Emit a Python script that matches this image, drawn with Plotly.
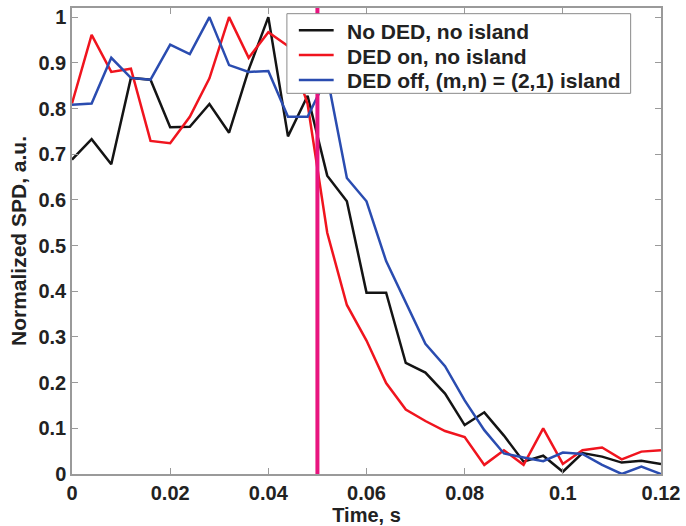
import plotly.graph_objects as go

# Time samples (s)
time_s = [0.000, 0.004, 0.008, 0.012, 0.016, 0.020, 0.024, 0.028, 0.032, 0.036,
          0.040, 0.044, 0.048, 0.052, 0.056, 0.060, 0.064, 0.068, 0.072, 0.076,
          0.080, 0.084, 0.088, 0.092, 0.096, 0.100, 0.104, 0.108, 0.112, 0.116,
          0.120]

# Normalized SPD signals
no_ded_no_island = [0.688, 0.733, 0.678, 0.867, 0.863, 0.759, 0.760, 0.810, 0.747, 0.885,
                    1.000, 0.739, 0.828, 0.653, 0.597, 0.397, 0.397, 0.243, 0.222, 0.176,
                    0.107, 0.135, 0.084, 0.027, 0.040, 0.005, 0.046, 0.038, 0.025, 0.029,
                    0.022]
ded_on_no_island = [0.811, 0.961, 0.880, 0.887, 0.729, 0.724, 0.782, 0.866, 1.000, 0.911,
                    0.967, 0.937, 0.810, 0.528, 0.370, 0.292, 0.199, 0.141, 0.116, 0.094,
                    0.081, 0.020, 0.052, 0.020, 0.100, 0.022, 0.052, 0.058, 0.032, 0.049,
                    0.052]
ded_off_island = [0.808, 0.811, 0.911, 0.867, 0.863, 0.940, 0.919, 1.000, 0.895, 0.880,
                  0.882, 0.782, 0.782, 0.870, 0.648, 0.597, 0.466, 0.375, 0.285, 0.236,
                  0.161, 0.096, 0.045, 0.036, 0.028, 0.047, 0.044, 0.020, 0.000, 0.016,
                  0.000]

series_names = ["No DED, no island", "DED on, no island", "DED off, (m,n) = (2,1) island"]
series_colors = ["#141414", "#f0141e", "#2a4cb0"]

# DED switch time marker
switch_time = 0.05

x_ticks = [0, 0.02, 0.04, 0.06, 0.08, 0.1, 0.12]
x_tick_text = ["0", "0.02", "0.04", "0.06", "0.08", "0.1", "0.12"]
y_ticks = [0, 0.1, 0.2, 0.3, 0.4, 0.5, 0.6, 0.7, 0.8, 0.9, 1.0]
y_tick_text = ["0", "0.1", "0.2", "0.3", "0.4", "0.5", "0.6", "0.7", "0.8", "0.9", "1"]

FONT = "Liberation Sans, Arial, sans-serif"
TXT = "#222222"
FRAME = "#9a9a9a"

W, H = 686, 526
M_L, M_R, M_T, M_B = 72, 22, 6, 52
PW, PH = W - M_L - M_R, H - M_T - M_B


def px_x(px):
    """Pixel column -> paper x (plot-area relative)."""
    return (px - M_L) / PW


def px_y(py):
    """Pixel row (from top) -> paper y (plot-area relative)."""
    return (H - M_B - py) / PH


fig = go.Figure()
for name, ys, col in zip(series_names,
                         [no_ded_no_island, ded_on_no_island, ded_off_island],
                         series_colors):
    fig.add_trace(go.Scatter(x=time_s, y=ys, mode="lines", name=name, showlegend=False,
                             line=dict(color=col, width=2.5)))

fig.add_shape(type="line", xref="x", yref="paper", x0=switch_time, x1=switch_time,
              y0=0, y1=1, line=dict(color="#e8157f", width=4), layer="above")

# Boxed legend in the upper right
fig.add_shape(type="rect", xref="paper", yref="paper",
              x0=px_x(288), x1=px_x(633.5), y0=px_y(91.7), y1=px_y(11.7),
              fillcolor="white", line=dict(color="#8a8a8a", width=1), layer="above")
row_px = [28.3, 53.3, 78.3]
for name, col, ry in zip(series_names, series_colors, row_px):
    fig.add_shape(type="line", xref="paper", yref="paper",
                  x0=px_x(300), x1=px_x(335), y0=px_y(ry), y1=px_y(ry),
                  line=dict(color=col, width=2.5), layer="above")
    fig.add_annotation(xref="paper", yref="paper", x=px_x(347), y=px_y(ry + 1),
                       xanchor="left", yanchor="middle", text=name, showarrow=False,
                       borderpad=0,
                       font=dict(family=FONT, size=21, color=TXT, weight="bold"))

axis_common = dict(
    showline=True, linecolor=FRAME, linewidth=1.5, mirror="ticks",
    ticks="inside", ticklen=6, tickcolor=FRAME, tickwidth=1,
    showgrid=False, zeroline=False,
    tickfont=dict(family=FONT, size=20, color=TXT, weight="bold"),
)

fig.update_xaxes(range=[0, 0.12], tickvals=x_ticks, ticktext=x_tick_text,
                 title=dict(text="Time, s", standoff=2,
                            font=dict(family=FONT, size=20, color=TXT, weight="bold")),
                 **axis_common)
fig.update_yaxes(range=[0, 1.02], tickvals=y_ticks, ticktext=y_tick_text,
                 title=dict(text="Normalized SPD, a.u.", standoff=6,
                            font=dict(family=FONT, size=21, color=TXT, weight="bold")),
                 **axis_common)

fig.update_layout(
    width=W, height=H,
    margin=dict(l=M_L, r=M_R, t=M_T, b=M_B),
    paper_bgcolor="white", plot_bgcolor="white",
    showlegend=False,
)

fig.write_html("out.html")
